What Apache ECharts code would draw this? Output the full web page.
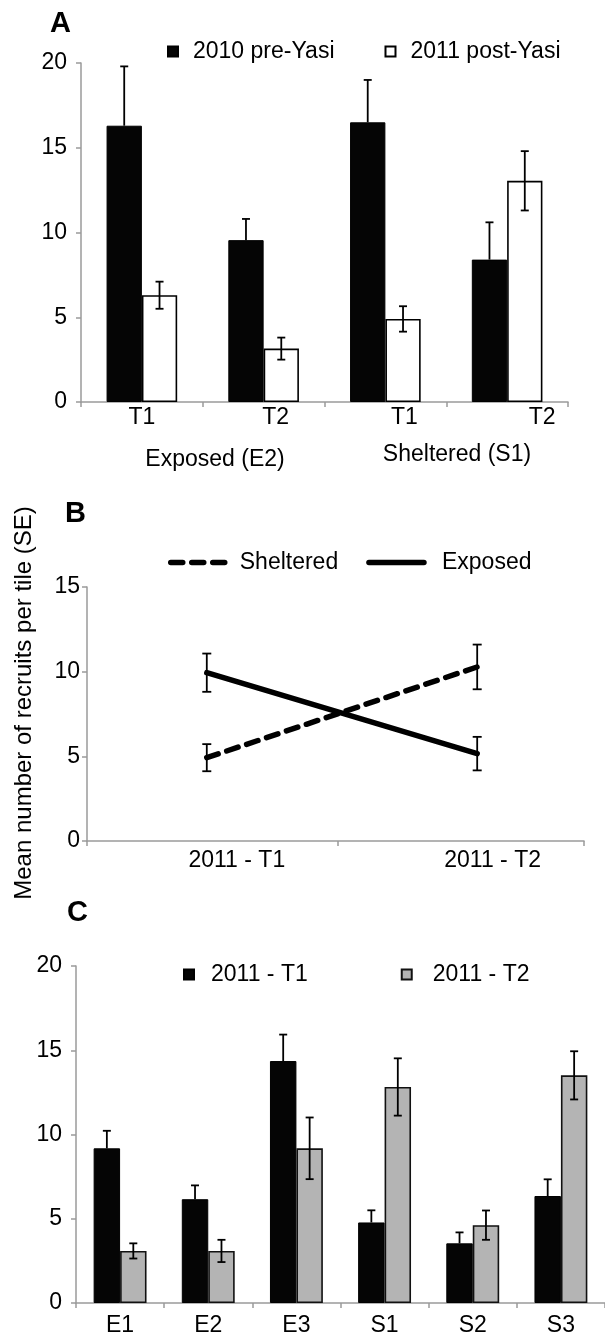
<!DOCTYPE html>
<html>
<head>
<meta charset="utf-8">
<script src="https://cdn.jsdelivr.net/npm/echarts@6/dist/echarts.min.js"></script>
<style>
html,body{margin:0;padding:0;background:#fff;}
#chart{width:605px;height:1337px;}
</style>
</head>
<body>
<div id="chart"></div>
<script>
// ---------- Panel A ----------
const catsA = ['T1', 'T2', 'T1', 'T2'];
const groupLabelsA = ['Exposed (E2)', 'Sheltered (S1)'];
const preYasi = [16.3, 9.55, 16.5, 8.4];
const preYasiSE = [3.5, 1.25, 2.5, 2.2];
const postYasi = [6.3, 3.15, 4.9, 13.05];
const postYasiSE = [0.8, 0.65, 0.75, 1.75];
const ticksA = [0, 5, 10, 15, 20];

// ---------- Panel B ----------
const catsB = ['2011 - T1', '2011 - T2'];
const sheltered = [4.92, 10.28];
const shelteredSE = [0.8, 1.32];
const exposed = [9.94, 5.16];
const exposedSE = [1.13, 0.99];
const ticksB = [0, 5, 10, 15];
const yNameB = 'Mean number of recruits per tile (SE)';

// ---------- Panel C ----------
const catsC = ['E1', 'E2', 'E3', 'S1', 'S2', 'S3'];
const t1 = [9.18, 6.16, 14.36, 4.78, 3.54, 6.35];
const t1SE = [1.04, 0.82, 1.57, 0.72, 0.65, 0.99];
const t2 = [3.09, 3.09, 9.18, 12.82, 4.62, 13.51];
const t2SE = [0.45, 0.66, 1.83, 1.7, 0.87, 1.43];
const ticksC = [0, 5, 10, 15, 20];

const FONT = '"Liberation Sans", Arial, sans-serif';
const AXIS_GRAY = '#9a9a9a';

function errSeries(name, xi, yi, means, ses, offsetFrac, capHalf, upperOnly) {
  return {
    type: 'custom',
    name: name,
    xAxisIndex: xi,
    yAxisIndex: yi,
    z: 10,
    silent: true,
    data: means.map((v, i) => [i, v, ses[i]]),
    encode: { x: 0, y: 1 },
    renderItem: function (params, api) {
      const x = api.value(0), m = api.value(1), se = api.value(2);
      const hi = api.coord([x, m + se]);
      const lo = api.coord(upperOnly ? [x, m] : [x, m - se]);
      let bw = 0;
      const sz = api.size([1, 0]);
      if (sz && sz[0]) bw = sz[0];
      const cx = hi[0] + offsetFrac * bw;
      const st = { stroke: '#000', lineWidth: 1.8 };
      const children = [
        { type: 'line', shape: { x1: cx, y1: hi[1], x2: cx, y2: lo[1] }, style: st },
        { type: 'line', shape: { x1: cx - capHalf, y1: hi[1], x2: cx + capHalf, y2: hi[1] }, style: st }
      ];
      if (!upperOnly) {
        children.push({ type: 'line', shape: { x1: cx - capHalf, y1: lo[1], x2: cx + capHalf, y2: lo[1] }, style: st });
      }
      return { type: 'group', children: children };
    }
  };
}

const axisLineStyle = { show: true, onZero: false, lineStyle: { color: AXIS_GRAY, width: 1.5 } };
const axisTickStyle = { show: true, length: 5, lineStyle: { color: AXIS_GRAY, width: 1.5 } };

function yAxis(gi, max, margin) {
  return {
    type: 'value', gridIndex: gi, min: 0, max: max, interval: 5,
    axisLine: axisLineStyle, axisTick: axisTickStyle,
    splitLine: { show: false },
    axisLabel: { fontSize: 23, color: '#000', fontFamily: FONT, margin: margin }
  };
}

// label offsets in panel A (Excel-style label placement)
const richA = {
  o0: { fontSize: 23, fontFamily: FONT, color: '#000', padding: [0, 0, 0, 0] },
  o1: { fontSize: 23, fontFamily: FONT, color: '#000', padding: [0, 0, 0, 24] },
  o2: { fontSize: 23, fontFamily: FONT, color: '#000', padding: [0, 0, 0, 38] },
  o3: { fontSize: 23, fontFamily: FONT, color: '#000', padding: [0, 0, 0, 70] }
};

const option = {
  animation: false,
  backgroundColor: '#fff',
  textStyle: { fontFamily: FONT },
  grid: [
    { left: 81, top: 63, width: 487, height: 339 },
    { left: 87, top: 587, width: 497, height: 254 },
    { left: 76, top: 966, width: 529, height: 339 }
  ],
  xAxis: [
    {
      type: 'category', gridIndex: 0, data: catsA,
      axisLine: axisLineStyle, axisTick: axisTickStyle,
      axisLabel: {
        margin: 4, interval: 0,
        formatter: (v, i) => '{o' + i + '|' + v + '}',
        rich: richA
      }
    },
    {
      type: 'value', gridIndex: 1, min: -0.443, max: 1.395,
      axisLine: axisLineStyle,
      axisTick: { show: true, length: 5, lineStyle: { color: AXIS_GRAY, width: 1.5 }, customValues: [-0.443, 0.4825, 1.395] },
      splitLine: { show: false },
      axisLabel: {
        fontSize: 23, color: '#000', fontFamily: FONT, margin: 8,
        customValues: [0.111, 1.057],
        formatter: v => (v < 0.5 ? catsB[0] : catsB[1])
      }
    },
    {
      type: 'category', gridIndex: 2, data: catsC,
      axisLine: axisLineStyle, axisTick: axisTickStyle,
      axisLabel: { fontSize: 23, color: '#000', fontFamily: FONT, margin: 11, interval: 0 }
    }
  ],
  yAxis: [yAxis(0, 20, 14), yAxis(1, 15, 7), yAxis(2, 20, 14)],
  legend: [
    {
      data: ['2010 pre-Yasi', '2011 post-Yasi'],
      left: 167, top: 40, padding: 0, icon: 'rect',
      itemWidth: 10, itemHeight: 10, itemGap: 50,
      textStyle: { fontSize: 23, color: '#000', fontFamily: FONT, padding: [0, 0, 0, 10] }
    },
    {
      data: [
        { name: 'Sheltered', textStyle: { padding: [0, 0, 0, 9] } },
        { name: 'Exposed', textStyle: { padding: [0, 0, 0, 13] } }
      ],
      left: 168, top: 551, padding: 0,
      itemWidth: 55, itemHeight: 14, itemGap: 28,
      itemStyle: { opacity: 0 },
      lineStyle: { width: 5.5, cap: 'round', color: '#000' },
      textStyle: { fontSize: 23, color: '#000', fontFamily: FONT }
    },
    {
      data: [
        { name: '2011 - T1', textStyle: { padding: [0, 0, 0, 12] } },
        { name: '2011 - T2', textStyle: { padding: [0, 0, 0, 16] } }
      ],
      left: 183, top: 963, padding: 0, icon: 'rect',
      itemWidth: 10, itemHeight: 10, itemGap: 93,
      textStyle: { fontSize: 23, color: '#000', fontFamily: FONT }
    }
  ],
  series: [
    // Panel A bars
    {
      type: 'bar', name: '2010 pre-Yasi', xAxisIndex: 0, yAxisIndex: 0,
      data: preYasi, barGap: '0%', barCategoryGap: '42%',
      itemStyle: { color: '#050505', borderColor: '#000', borderWidth: 1 }
    },
    {
      type: 'bar', name: '2011 post-Yasi', xAxisIndex: 0, yAxisIndex: 0,
      data: postYasi, barGap: '0%', barCategoryGap: '42%',
      itemStyle: { color: '#fff', borderColor: '#000', borderWidth: 1.6 }
    },
    errSeries('errA1', 0, 0, preYasi, preYasiSE, -0.145, 4, true),
    errSeries('errA2', 0, 0, postYasi, postYasiSE, 0.145, 4, false),

    // Panel B lines
    {
      type: 'line', name: 'Sheltered', xAxisIndex: 1, yAxisIndex: 1,
      data: sheltered.map((v, i) => [i, v]), symbol: 'none',
      lineStyle: { color: '#000', width: 5.5, type: [12, 9], cap: 'round' },
      itemStyle: { color: '#000' }
    },
    {
      type: 'line', name: 'Exposed', xAxisIndex: 1, yAxisIndex: 1,
      data: exposed.map((v, i) => [i, v]), symbol: 'none',
      lineStyle: { color: '#000', width: 5.5, type: 'solid', cap: 'round' },
      itemStyle: { color: '#000' }
    },
    errSeries('errB1', 1, 1, sheltered, shelteredSE, 0, 4.5, false),
    errSeries('errB2', 1, 1, exposed, exposedSE, 0, 4.5, false),

    // Panel C bars
    {
      type: 'bar', name: '2011 - T1', xAxisIndex: 2, yAxisIndex: 2,
      data: t1, barGap: '0%', barCategoryGap: '40%',
      itemStyle: { color: '#050505', borderColor: '#000', borderWidth: 1 }
    },
    {
      type: 'bar', name: '2011 - T2', xAxisIndex: 2, yAxisIndex: 2,
      data: t2, barGap: '0%', barCategoryGap: '40%',
      itemStyle: { color: '#b4b4b4', borderColor: '#111', borderWidth: 1.6 }
    },
    errSeries('errC1', 2, 2, t1, t1SE, -0.15, 4, true),
    errSeries('errC2', 2, 2, t2, t2SE, 0.15, 4, false)
  ],
  graphic: [
    { type: 'text', left: 50, top: 9, style: { text: 'A', font: 'bold 29px ' + FONT, fill: '#000' } },
    { type: 'text', left: 65, top: 499, style: { text: 'B', font: 'bold 29px ' + FONT, fill: '#000' } },
    { type: 'text', left: 67, top: 898, style: { text: 'C', font: 'bold 29px ' + FONT, fill: '#000' } },
    { type: 'text', x: 215, y: 460, style: { text: groupLabelsA[0], font: '23px ' + FONT, fill: '#000', align: 'center', verticalAlign: 'middle' } },
    { type: 'text', x: 457, y: 455, style: { text: groupLabelsA[1], font: '23px ' + FONT, fill: '#000', align: 'center', verticalAlign: 'middle' } },
    { type: 'text', x: 24, y: 703, rotation: Math.PI / 2, style: { text: yNameB, font: '24px ' + FONT, fill: '#000', align: 'center', verticalAlign: 'middle' } }
  ]
};

const chart = echarts.init(document.getElementById('chart'), null, { renderer: 'canvas' });
chart.setOption(option);
</script>
</body>
</html>
